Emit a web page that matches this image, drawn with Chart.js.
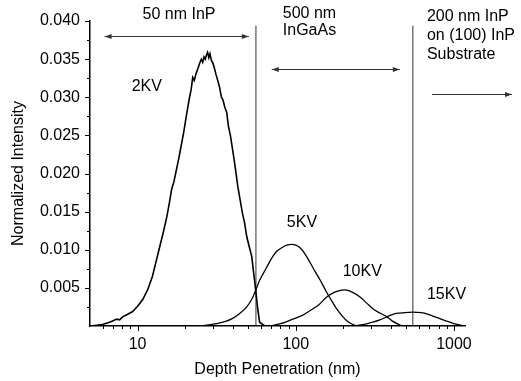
<!DOCTYPE html>
<html>
<head>
<meta charset="utf-8">
<script src="https://cdn.jsdelivr.net/npm/chart.js@4.4.1/dist/chart.umd.min.js"></script>
<style>
  html, body { margin: 0; padding: 0; background: #fff; }
  canvas { display: block; }
</style>
</head>
<body>
<canvas id="depthChart" width="521" height="381"></canvas>
<script>
// Profundidad (nm) e intensidad normalizada
const kv2Depth = [4.97, 5.5, 6.0, 6.65, 7.0, 7.36, 7.7, 8.04, 8.6, 9.3, 10.0, 10.8, 11.6, 12.4, 13.1, 13.8, 14.5, 15.3, 15.9, 16.4,
  17.0, 17.6, 18.3, 19.0, 19.6, 20.3, 21.3, 21.8, 22.3, 22.8, 23.5, 24.1, 24.7, 25.3, 25.8, 26.3, 26.8, 27.3, 27.7, 28.2,
  28.7, 29.3, 29.9, 30.6, 31.3, 32.1, 33.0, 33.8, 34.7, 35.6, 36.6, 37.5, 38.6, 39.9, 41.3, 43.0, 44.5, 46.0, 47.5, 49.0,
  50.8, 52.7, 54.0, 55.1, 56.3, 57.5, 59.1, 63.7];
const kv2Intensity = [0, 0.0001, 0.0002, 0.0005, 0.0007, 0.0009, 0.0008, 0.0012, 0.0015, 0.0019, 0.0026, 0.0035, 0.0048, 0.0065, 0.0085, 0.0104, 0.0122, 0.0143, 0.0162, 0.0179,
  0.0190, 0.0205, 0.0222, 0.0240, 0.0255, 0.0275, 0.0300, 0.0310, 0.0326, 0.0322, 0.0332, 0.0338, 0.0345, 0.0350, 0.0346, 0.0353, 0.0350, 0.0356, 0.0359, 0.0352,
  0.0357, 0.0348, 0.0345, 0.0338, 0.0330, 0.0322, 0.0313, 0.0301, 0.0296, 0.0287, 0.0280, 0.0262, 0.0250, 0.0231, 0.0210, 0.0183, 0.0165, 0.0148, 0.0135, 0.0117,
  0.0104, 0.0091, 0.0072, 0.0057, 0.0040, 0.0022, 0.0005, 0];

const kv5Depth = [24.7, 31.6, 36, 39.9, 44, 49.0, 53, 56.6, 59.1, 65.5, 70, 75.8, 82, 87.8, 94.4, 100, 106, 114, 122.6, 132, 142, 157, 170, 182, 195, 210, 225, 243];
const kv5Intensity = [0, 0.0003, 0.0006, 0.0010, 0.0016, 0.0025, 0.0036, 0.0050, 0.0060, 0.0077, 0.0088, 0.0098, 0.0103, 0.0106, 0.0107, 0.0106, 0.0103, 0.0095, 0.0084, 0.0072, 0.0061, 0.0044, 0.0032, 0.0022, 0.0014, 0.0007, 0.0003, 0];

const kv10Depth = [68.4, 80, 95.7, 110, 122.6, 140, 157, 175, 195, 210, 229, 255, 281, 310, 340, 377, 411, 450, 476];
const kv10Intensity = [0, 0.0003, 0.0009, 0.0014, 0.0020, 0.0028, 0.0038, 0.0044, 0.0047, 0.0047, 0.0044, 0.0038, 0.0030, 0.0022, 0.0017, 0.0012, 0.0006, 0.0002, 0];

const kv15Depth = [229, 270, 307, 340, 377, 420, 455, 520, 583, 650, 736, 830, 944, 1050, 1175];
const kv15Intensity = [0, 0.0002, 0.0005, 0.0008, 0.0012, 0.0016, 0.0017, 0.0018, 0.0018, 0.0017, 0.0013, 0.0009, 0.0005, 0.0002, 0];

// Limites de capa (nm)
const layerBoundaries = [56, 550];

// Ticks de los ejes
const xTickLabels = [10, 100, 1000];
const xMinorTicks = [6, 7, 8, 9, 20, 30, 40, 50, 60, 70, 80, 90, 200, 300, 400, 500, 600, 700, 800, 900];
const yTickLabels = [0.005, 0.010, 0.015, 0.020, 0.025, 0.030, 0.035, 0.040];
const yMinorTicks = [0.0025, 0.0075, 0.0125, 0.0175, 0.0225, 0.0275, 0.0325, 0.0375];

// Anotaciones: flechas y textos en coordenadas de datos
const arrows = [
  { from: 6.18, to: 50.5, y: 0.0380, both: true },
  { from: 70.5, to: 455, y: 0.0337, both: true },
  { from: 726, to: 2330, y: 0.0304, both: false }
];
const notes = [
  { text: '50 nm InP', x: 10.75, y: 0.0408 },
  { text: '500 nm', x: 82.8, y: 0.0410 },
  { text: 'InGaAs', x: 82.8, y: 0.0388 },
  { text: '200 nm InP', x: 675, y: 0.0406 },
  { text: 'on (100) InP', x: 675, y: 0.0381 },
  { text: 'Substrate', x: 675, y: 0.0356 },
  { text: '2KV', x: 9.17, y: 0.03145 },
  { text: '5KV', x: 87.8, y: 0.01357 },
  { text: '10KV', x: 198, y: 0.00718 },
  { text: '15KV', x: 675, y: 0.00418 }
];

const FONT = "'Liberation Sans', Arial, sans-serif";

function toPoints(xs, ys) {
  return xs.map((x, i) => ({ x: x, y: ys[i] }));
}

function curve(xs, ys, tension, width) {
  return {
    data: toPoints(xs, ys),
    borderColor: '#000',
    borderWidth: width,
    pointRadius: 0,
    tension: tension
  };
}

const datasets = [
  curve(kv2Depth, kv2Intensity, 0, 1.6),
  curve(kv5Depth, kv5Intensity, 0.3, 1.3),
  curve(kv10Depth, kv10Intensity, 0.3, 1.3),
  curve(kv15Depth, kv15Intensity, 0.3, 1.3)
];
layerBoundaries.forEach((b) => {
  datasets.push({
    data: [{ x: b, y: 0 }, { x: b, y: 0.0394 }],
    borderColor: '#333',
    borderWidth: 1,
    pointRadius: 0
  });
});

// Plugin para ticks menores, flechas y textos
const decorations = {
  id: 'decorations',
  afterDraw(chart) {
    const { ctx, chartArea, scales } = chart;
    const xs = scales.x, ys = scales.y;
    ctx.save();
    ctx.strokeStyle = '#000';
    ctx.lineWidth = 1;

    ctx.beginPath();
    yTickLabels.forEach((v) => {
      const py = Math.round(ys.getPixelForValue(v)) + 0.5;
      ctx.moveTo(chartArea.left - 5, py); ctx.lineTo(chartArea.left, py);
    });
    yMinorTicks.forEach((v) => {
      const py = Math.round(ys.getPixelForValue(v)) + 0.5;
      ctx.moveTo(chartArea.left - 3, py); ctx.lineTo(chartArea.left, py);
    });
    xTickLabels.forEach((v) => {
      const px = Math.round(xs.getPixelForValue(v)) + 0.5;
      ctx.moveTo(px, chartArea.bottom); ctx.lineTo(px, chartArea.bottom + 5);
    });
    xMinorTicks.forEach((v) => {
      const px = Math.round(xs.getPixelForValue(v)) + 0.5;
      ctx.moveTo(px, chartArea.bottom); ctx.lineTo(px, chartArea.bottom + 3);
    });
    ctx.stroke();

    // Flechas
    ctx.strokeStyle = '#333';
    ctx.fillStyle = '#333';
    arrows.forEach((a) => {
      const x1 = xs.getPixelForValue(a.from);
      const x2 = xs.getPixelForValue(a.to);
      const py = Math.round(ys.getPixelForValue(a.y)) + 0.5;
      ctx.beginPath();
      ctx.moveTo(x1, py); ctx.lineTo(x2, py);
      ctx.stroke();
      ctx.beginPath();
      ctx.moveTo(x2, py); ctx.lineTo(x2 - 7, py - 2.5); ctx.lineTo(x2 - 7, py + 2.5); ctx.closePath();
      if (a.both) {
        ctx.moveTo(x1, py); ctx.lineTo(x1 + 7, py - 2.5); ctx.lineTo(x1 + 7, py + 2.5); ctx.closePath();
      }
      ctx.fill();
    });

    // Textos
    ctx.fillStyle = '#000';
    ctx.font = '16px ' + FONT;
    ctx.textAlign = 'left';
    ctx.textBaseline = 'middle';
    notes.forEach((n) => {
      ctx.fillText(n.text, xs.getPixelForValue(n.x), ys.getPixelForValue(n.y));
    });
    ctx.restore();
  }
};

new Chart(document.getElementById('depthChart'), {
  type: 'line',
  data: { datasets: datasets },
  plugins: [decorations],
  options: {
    responsive: false,
    animation: false,
    layout: { padding: { top: 21, right: 56, bottom: 0, left: 0 } },
    plugins: { legend: { display: false }, tooltip: { enabled: false } },
    scales: {
      x: {
        type: 'logarithmic',
        min: 5,
        max: 1175,
        afterBuildTicks: (scale) => { scale.ticks = xTickLabels.map((v) => ({ value: v })); },
        afterFit: (scale) => { scale.height = 55; },
        grid: { display: false, drawTicks: false },
        border: { display: true, color: '#000', width: 1.5 },
        ticks: {
          autoSkip: false,
          maxRotation: 0,
          padding: 9,
          color: '#000',
          font: { family: FONT, size: 16 },
          callback: (v) => String(v)
        },
        title: {
          display: true,
          text: 'Depth Penetration (nm)',
          color: '#000',
          font: { family: FONT, size: 16 },
          padding: { top: 0, bottom: 2 }
        }
      },
      y: {
        min: 0,
        max: 0.04,
        afterBuildTicks: (scale) => { scale.ticks = yTickLabels.map((v) => ({ value: v })); },
        afterFit: (scale) => { scale.width = 90; },
        grid: { display: false, drawTicks: false },
        border: { display: true, color: '#000', width: 1.5 },
        ticks: {
          padding: 10,
          color: '#000',
          font: { family: FONT, size: 16 },
          callback: (v) => v.toFixed(3)
        },
        title: {
          display: true,
          text: 'Normalized Intensity',
          color: '#000',
          font: { family: FONT, size: 16 },
          padding: { top: 9, bottom: 0 }
        }
      }
    }
  }
});
</script>
</body>
</html>
